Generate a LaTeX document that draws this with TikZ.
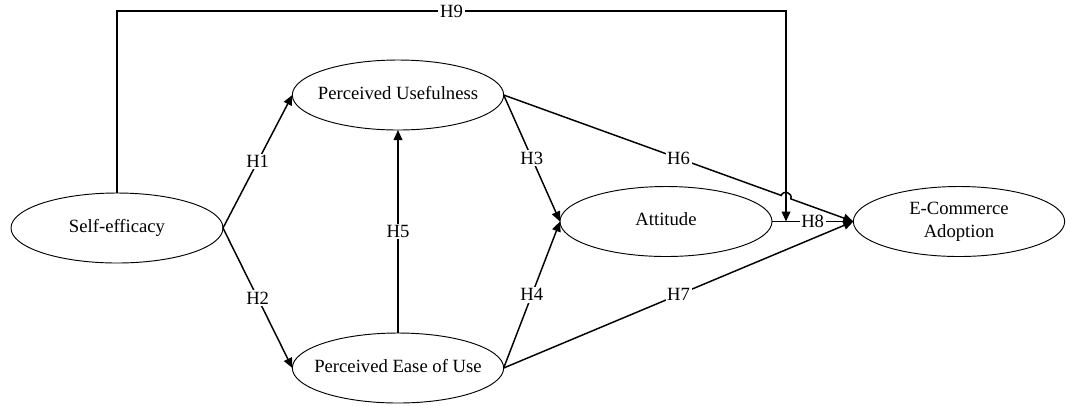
\documentclass[tikz,border=0pt]{standalone}
\usepackage{fontspec}
\setmainfont{Liberation Serif}
\usetikzlibrary{arrows.meta,shapes.geometric,calc,intersections}
\newcommand{\ctext}[1]{\makebox[0pt]{\begin{tabular}{@{}c@{}}#1\end{tabular}}}
\begin{document}
\begin{tikzpicture}[x=0.75pt,y=-0.75pt,
  construct/.style={draw,ellipse,line width=0.7pt,inner sep=0pt,outer sep=0pt,minimum width=159pt,minimum height=52.5pt,font=\rmfamily\fontsize{14}{16}\selectfont},
  conn/.style={line width=1.1pt},
  arr/.style={conn,-{Triangle[length=7.5pt,width=6.5pt]}},
  lbl/.style={fill=white,inner sep=1.2pt,font=\rmfamily\fontsize{14}{16}\selectfont}]
\useasboundingbox (0,0) rectangle (1067,405);
\node[construct] (SE) at (117,228) {\ctext{Self-efficacy}};
\node[construct,minimum width=158.5pt] (PU) at (398,95) {\ctext{Perceived Usefulness}};
\node[construct,minimum width=158.5pt] (PE) at (398,368) {\ctext{Perceived Ease of Use}};
\node[construct] (ATT) at (666,221.5) {\ctext{Attitude}};
\node[construct,minimum width=158.5pt,font=\rmfamily\fontsize{14}{17.5}\selectfont] (ECA) at (959,221.5) {\ctext{E-Commerce\\Adoption}};
\coordinate (h9a) at (117,11);
\coordinate (h9c) at (786,11);
\coordinate (h9end) at (h9c |- ATT.east);
% H1, H2
\draw[arr] (SE.east) -- node[lbl]{H1} (PU.west);
\draw[arr] (SE.east) -- node[lbl]{H2} (PE.west);
% H5
\draw[arr] (PE.north) -- node[lbl]{H5} (PU.south);
% H3, H4
\draw[arr] (PU.east) -- node[lbl]{H3} (ATT.west);
\draw[arr] (PE.east) -- node[lbl]{H4} (ATT.west);
% H7
\draw[arr] (PE.east) -- node[lbl]{H7} (ECA.west);
% H8
\draw[arr] (ATT.east) -- node[lbl]{H8} (ECA.west);
% H9
\draw[arr] (SE.north) -- (h9a) -- node[lbl]{H9} (h9c) -- (h9end);
% H6 with line hop
\path[name path=h6] (PU.east) -- (ECA.west);
\path[name path=h9v] (h9c) -- (h9end);
\path[name intersections={of=h6 and h9v,by=X}];
\coordinate (ha) at ($(X)!3.8pt!(PU.east)$);
\coordinate (hb) at ($(X)!3.8pt!(ECA.west)$);
\draw[arr] (PU.east) -- (ha) to[bend left=90,looseness=1.6] (hb) -- (ECA.west);
\node[lbl] (H6) at ($(PU.east)!0.5!(ECA.west)$) {H6};
\end{tikzpicture}
\end{document}
